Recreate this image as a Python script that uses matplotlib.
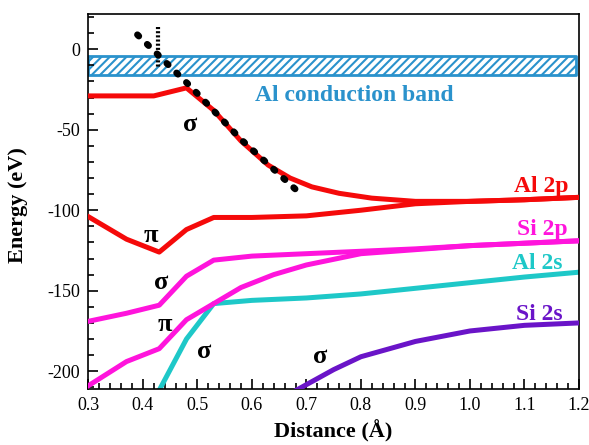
import matplotlib
matplotlib.use("Agg")
import matplotlib.pyplot as plt
from matplotlib.ticker import MultipleLocator, FormatStrFormatter

plt.rcParams['font.family'] = ['Liberation Serif', 'DejaVu Serif']
plt.rcParams['hatch.linewidth'] = 1.5
plt.rcParams['axes.unicode_minus'] = False

# Al 2p, sigma branch
al2p_s_x = [0.3, 0.42, 0.48, 0.53, 0.58, 0.63, 0.67, 0.71, 0.76, 0.82, 0.9, 1.0, 1.1, 1.2]
al2p_s_y = [-29, -29, -24, -38, -57, -72, -80, -85.5, -89.5, -92.5, -94.5, -94.5, -93.5, -92]
# Al 2p, pi branch
al2p_p_x = [0.3, 0.37, 0.43, 0.48, 0.53, 0.6, 0.7, 0.8, 0.9, 1.0, 1.1, 1.2]
al2p_p_y = [-104, -118, -126, -112, -104.5, -104.5, -103.5, -100, -96, -94.5, -93.5, -92]
# Si 2p, sigma branch
si2p_s_x = [0.3, 0.37, 0.43, 0.48, 0.53, 0.6, 0.7, 0.8, 0.9, 1.0, 1.1, 1.2]
si2p_s_y = [-169, -164, -159, -141, -131, -128.5, -127, -125.5, -124, -122, -120.5, -119]
# Si 2p, pi branch
si2p_p_x = [0.3, 0.37, 0.43, 0.48, 0.53, 0.58, 0.64, 0.7, 0.8, 0.9, 1.0, 1.1, 1.2]
si2p_p_y = [-209, -194, -186, -168, -158, -148, -140, -134, -127, -124.5, -122, -120.5, -119]
# Al 2s
al2s_x = [0.425, 0.48, 0.53, 0.6, 0.7, 0.8, 0.9, 1.0, 1.1, 1.2]
al2s_y = [-215, -180, -158, -156, -154.5, -152, -148.5, -145, -141.5, -138.5]
# Si 2s
si2s_x = [0.675, 0.75, 0.8, 0.9, 1.0, 1.1, 1.2]
si2s_y = [-213, -199, -191, -181.5, -175, -171.5, -170]
# dotted guide lines
diag_x = [0.39, 0.49, 0.58, 0.68]
diag_y = [9, -24, -56, -87]
vert_x = [0.428, 0.428]
vert_y = [14, -11]
# conduction band
band_lo, band_hi = -16, -4

red = '#f50a0a'
mag = '#ff14dc'
cyan = '#1ec8c8'
purple = '#6a14c8'
blue = '#2a92cc'

fig, ax = plt.subplots(figsize=(5.89, 4.45), dpi=100)
fig.subplots_adjust(left=0.15, right=0.983, top=0.969, bottom=0.126)

ax.fill_between([0.3, 1.195], band_lo, band_hi, facecolor='white',
                edgecolor=blue, hatch='////', linewidth=2, zorder=1)

lw = 3.6
ax.plot(al2p_s_x, al2p_s_y, color=red, lw=lw, zorder=3)
ax.plot(al2p_p_x, al2p_p_y, color=red, lw=lw, zorder=3)
ax.plot(si2p_s_x, si2p_s_y, color=mag, lw=lw, zorder=3)
ax.plot(si2p_p_x, si2p_p_y, color=mag, lw=lw, zorder=3)
ax.plot(al2s_x, al2s_y, color=cyan, lw=lw, zorder=2)
ax.plot(si2s_x, si2s_y, color=purple, lw=lw, zorder=3)
ax.plot(diag_x, diag_y, color='black', lw=4.8, ls=(0, (0.3, 1.75)),
        dash_capstyle='round', zorder=4)
ax.plot(vert_x, vert_y, color='black', lw=3, ls=(0, (0.5, 0.5)), zorder=4)

fs = 17
ax.text(0.606, -29, 'Al conduction band', color=blue, fontsize=fs,
        fontweight='bold', va='center')
ax.text(1.18, -85, 'Al 2p', color=red, fontsize=fs, fontweight='bold',
        ha='right', va='center')
ax.text(1.18, -112, 'Si 2p', color=mag, fontsize=fs, fontweight='bold',
        ha='right', va='center')
ax.text(1.17, -133, 'Al 2s', color=cyan, fontsize=fs, fontweight='bold',
        ha='right', va='center')
ax.text(1.17, -165, 'Si 2s', color=purple, fontsize=fs, fontweight='bold',
        ha='right', va='center')

greek = [(0.487, -47, 'σ'), (0.414, -116, 'π'), (0.433, -145, 'σ'),
         (0.441, -171, 'π'), (0.513, -188, 'σ'), (0.725, -191, 'σ')]
for gx, gy, g in greek:
    ax.text(gx, gy, g, fontsize=19, fontweight='bold', ha='center',
            va='center')

ax.set_xlim(0.3, 1.2)
ax.set_ylim(-211, 22)
ax.xaxis.set_major_locator(MultipleLocator(0.1))
ax.xaxis.set_minor_locator(MultipleLocator(0.02))
ax.xaxis.set_major_formatter(FormatStrFormatter('%.1f'))
ax.yaxis.set_major_locator(MultipleLocator(50))
ax.yaxis.set_minor_locator(MultipleLocator(10))
ax.tick_params(which='both', direction='in', top=False, right=False,
               labelsize=13, width=1.2)
ax.tick_params(which='major', length=7, pad=6)
ax.tick_params(which='minor', length=4)
for s in ax.spines.values():
    s.set_linewidth(1.2)

ax.set_xlabel('Distance (Å)', fontsize=16, fontweight='bold', labelpad=4)
ax.set_ylabel('Energy (eV)', fontsize=16, fontweight='bold')
ax.yaxis.set_label_coords(-0.122, 0.49)

fig.savefig('out.png', dpi=100)
